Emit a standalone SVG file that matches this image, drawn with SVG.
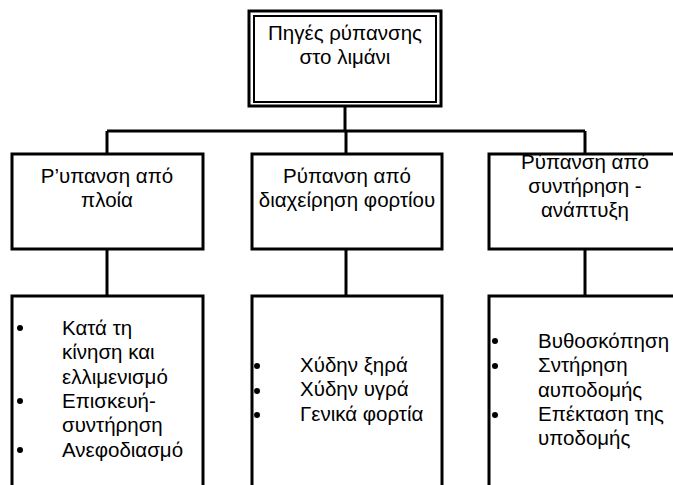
<svg xmlns="http://www.w3.org/2000/svg" width="673" height="485" viewBox="0 0 673 485">
<style>
.box{fill:#fff;stroke:#000;stroke-width:3}
.t{font-family:"Liberation Sans",Arial,sans-serif;font-size:20.5px;fill:#000}
.c{text-anchor:middle}
.conn{stroke:#000;stroke-width:3;fill:none}
.b{fill:#000}
</style>
<g id="connectors">
<line class="conn" x1="345" y1="106" x2="345" y2="131"/>
<line class="conn" x1="107" y1="131" x2="585" y2="131"/>
<line class="conn" x1="107" y1="131" x2="107" y2="154"/>
<line class="conn" x1="346" y1="131" x2="346" y2="154"/>
<line class="conn" x1="585" y1="131" x2="585" y2="154"/>
<line class="conn" x1="107" y1="249" x2="107" y2="296"/>
<line class="conn" x1="346" y1="249" x2="346" y2="296"/>
<line class="conn" x1="585" y1="249" x2="585" y2="296"/>
</g>
<g id="root">
<rect x="249" y="11" width="192" height="95" fill="#fff" stroke="#000" stroke-width="3"/>
<rect x="254" y="16" width="182" height="86" fill="none" stroke="#000" stroke-width="2"/>
<text class="t c" x="345" y="40">Πηγές ρύπανσης</text>
<text class="t c" x="345" y="64">στο λιμάνι</text>
</g>
<g id="ships">
<rect class="box" x="12" y="154" width="191" height="95"/>
<text class="t c" x="107" y="183">Ρ’υπανση από</text>
<text class="t c" x="107" y="207">πλοία</text>
</g>
<g id="cargo">
<rect class="box" x="252" y="154" width="190" height="95"/>
<text class="t c" x="347" y="183">Ρύπανση από</text>
<text class="t c" x="347" y="207">διαχείρηση φορτίου</text>
</g>
<g id="maintenance">
<rect class="box" x="489" y="154" width="200" height="95"/>
<text class="t c" x="585" y="169">Ρύπανση από</text>
<text class="t c" x="585" y="193">συντήρηση -</text>
<text class="t c" x="585" y="217">ανάπτυξη</text>
</g>
<g id="ships-list">
<rect class="box" x="12" y="296" width="191" height="200"/>
<circle class="b" cx="20" cy="328" r="3"/>
<circle class="b" cx="20" cy="401" r="3"/>
<circle class="b" cx="20" cy="450" r="3"/>
<text class="t" x="62" y="335">Κατά τη</text>
<text class="t" x="62" y="359">κίνηση και</text>
<text class="t" x="62" y="384">ελλιμενισμό</text>
<text class="t" x="62" y="408">Επισκευή-</text>
<text class="t" x="62" y="432">συντήρηση</text>
<text class="t" x="62" y="457">Ανεφοδιασμό</text>
</g>
<g id="cargo-list">
<rect class="box" x="252" y="296" width="190" height="200"/>
<circle class="b" cx="257" cy="366" r="3"/>
<circle class="b" cx="257" cy="391" r="3"/>
<circle class="b" cx="257" cy="415" r="3"/>
<text class="t" x="300" y="372">Χύδην ξηρά</text>
<text class="t" x="300" y="396">Χύδην υγρά</text>
<text class="t" x="300" y="421">Γενικά φορτία</text>
</g>
<g id="maintenance-list">
<rect class="box" x="489" y="296" width="200" height="200"/>
<circle class="b" cx="495" cy="341" r="3"/>
<circle class="b" cx="495" cy="366" r="3"/>
<circle class="b" cx="495" cy="415" r="3"/>
<text class="t" x="538" y="348">Βυθοσκόπηση</text>
<text class="t" x="538" y="372">Σντήρηση</text>
<text class="t" x="538" y="397">αυποδομής</text>
<text class="t" x="538" y="421">Επέκταση της</text>
<text class="t" x="538" y="445">υποδομής</text>
</g>
</svg>
